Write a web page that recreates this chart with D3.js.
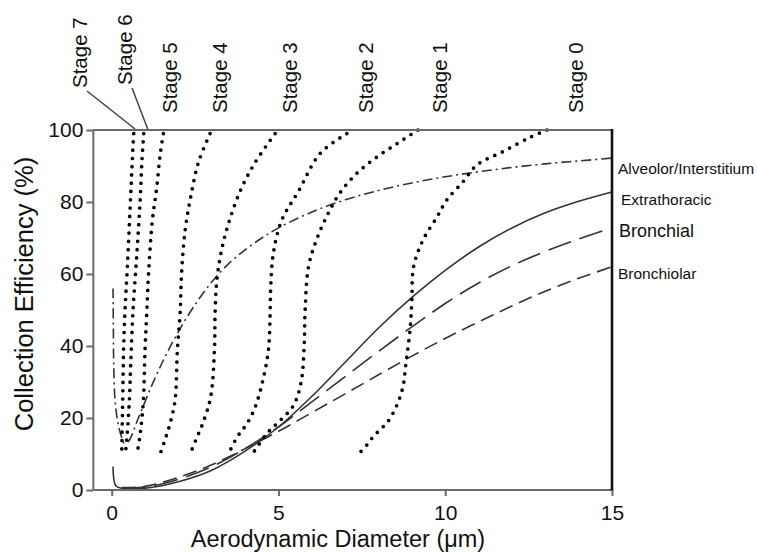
<!DOCTYPE html>
<html>
<head>
<meta charset="utf-8">
<script src="https://cdn.jsdelivr.net/npm/d3@7"></script>
<style>
  html, body { margin: 0; padding: 0; background: #fff; }
  svg { display: block; font-family: "Liberation Sans", Arial, Helvetica, sans-serif; }
</style>
</head>
<body>
<svg id="chart" width="757" height="552"></svg>
<script>
// ---------------- data ----------------
const xTicks = [0, 5, 10, 15];
const yTicks = [0, 20, 40, 60, 80, 100];
const xTitle = "Aerodynamic Diameter (\u03bcm)";
const yTitle = "Collection Efficiency (%)";

const regionNames = ["Alveolor/Interstitium", "Extrathoracic", "Bronchial", "Bronchiolar"];

const alveolar = [[0.04,56],[0.05,45],[0.06,35],[0.1,25],[0.18,19],[0.27,15.5],[0.38,13],[0.5,13.5],[0.8,20],[1.2,29],[1.6,37],[2.0,44],[2.5,51.5],[3.0,57.8],[3.5,62.8],[4.0,66.7],[4.5,70],[5.0,72.8],[6,77.2],[7,80.6],[8,83.2],[9,85.3],[10,87],[11,88.4],[12,89.6],[13,90.6],[14,91.4],[15,92.2]];
const extrathoracic = [[0.04,6.5],[0.12,1.2],[0.3,0.5],[1,0.5],[2,2.3],[3,5.5],[4,10.8],[5,17.5],[6,26],[7,35.5],[8,45],[9,53.5],[10,61],[11,67.5],[12,72.8],[13,77],[14,80.2],[15,82.8]];
const bronchial = [[0.3,0.6],[1,0.8],[2,3],[3,6.5],[4,11.5],[5,17.5],[6,24.5],[7,31.5],[8,38.5],[9,45.3],[10,51.8],[11,57.5],[12,62.3],[13,66.3],[14,69.7],[15,72.8]];
const bronchiolar = [[0.3,0.7],[1,1],[2,3.5],[3,7],[4,11.5],[5,16.3],[6,21.5],[7,26.7],[8,32],[9,37.2],[10,42.1],[11,46.7],[12,51.1],[13,55.2],[14,58.8],[15,62]];

const stageNames = ["Stage 7","Stage 6","Stage 5","Stage 4","Stage 3","Stage 2","Stage 1","Stage 0"];
const stage7 = [[0.66,99],[0.62,92],[0.56,80],[0.47,62],[0.40,50],[0.36,40],[0.33,25],[0.30,10]];
const stage6 = [[0.96,99],[0.91,92],[0.85,80],[0.75,65],[0.64,50],[0.57,35],[0.53,25],[0.46,15],[0.41,10]];
const stage5 = [[1.55,99],[1.45,93],[1.35,84],[1.22,75],[1.11,61],[1.05,49],[1.0,39],[0.95,25],[0.86,16],[0.76,10]];
const stage4 = [[2.95,99],[2.6,91],[2.36,81],[2.2,72],[2.1,61],[2.05,49],[1.97,39],[1.9,25],[1.75,18.5],[1.6,14],[1.45,10]];
const stage3 = [[4.9,99],[4.3,91],[3.85,83],[3.5,74],[3.28,66],[3.15,58],[3.1,49],[3.08,39],[2.97,26],[2.75,19],[2.55,14.5],[2.35,10]];
const stage2 = [[7.05,99],[6.25,93.5],[5.6,83],[5.1,75],[4.85,66],[4.77,57],[4.75,49],[4.7,39],[4.52,30],[4.3,23],[4.06,18.5],[3.76,14.7],[3.5,10]];
const stage1 = [[9.18,100],[8.6,96.5],[7.95,92.5],[7.35,88],[6.84,82.5],[6.5,77],[6.16,70],[5.9,62],[5.8,50],[5.77,40],[5.68,30],[5.45,23.5],[5.05,19.3],[4.66,15.8],[4.22,10]];
const stage0 = [[13.05,100],[12.55,98],[11.73,94],[10.95,90.3],[10.53,85.6],[10.05,80.6],[9.75,75.8],[9.33,69.4],[9.05,62],[9.0,53],[8.95,45],[8.82,35],[8.73,28.6],[8.55,23.6],[8.28,19],[8.04,16.7],[7.83,14.7],[7.65,12.5],[7.4,10]];

// ---------------- layout ----------------
const svg = d3.select("#chart");
const x = d3.scaleLinear().domain([0, 15]).range([111.7, 612]);
const y = d3.scaleLinear().domain([0, 100]).range([490, 130]);
const xLeft = -0.55;               // left edge of frame in data units
const axisGrey = "#6a6a6a";

const line = d3.line().x(d => x(d[0])).y(d => y(d[1])).curve(d3.curveCatmullRom.alpha(0.5));

// ---------------- region curves ----------------
const regionSeries = [alveolar, extrathoracic, bronchial, bronchiolar];
const regionDash = ["10,4,2,4", null, "24,9", "14,7"];
const g = svg.append("g");
regionSeries.forEach((s, i) => {
  g.append("path").attr("d", line(s))
    .attr("fill", "none").attr("stroke", "#333")
    .attr("stroke-width", 1.6)
    .attr("stroke-dasharray", regionDash[i]);
});

// ---------------- stage dotted curves ----------------
const stageSeries = [stage7, stage6, stage5, stage4, stage3, stage2, stage1, stage0];
stageSeries.forEach(s => {
  g.append("path").attr("d", line(s))
    .attr("fill", "none").attr("stroke", "#000")
    .attr("stroke-width", 3.7)
    .attr("stroke-linecap", "round")
    .attr("stroke-dasharray", "0,8.3");
});

// ---------------- frame & axes ----------------
const frame = svg.append("g");
frame.append("line").attr("x1", x(xLeft)).attr("x2", x(15)).attr("y1", y(100)).attr("y2", y(100))
  .attr("stroke", axisGrey).attr("stroke-width", 2);
frame.append("line").attr("x1", x(xLeft)).attr("x2", x(15)).attr("y1", y(0)).attr("y2", y(0))
  .attr("stroke", axisGrey).attr("stroke-width", 2);
frame.append("line").attr("x1", x(xLeft)).attr("x2", x(xLeft)).attr("y1", y(100)).attr("y2", y(0))
  .attr("stroke", axisGrey).attr("stroke-width", 2);
frame.append("line").attr("x1", x(15)).attr("x2", x(15)).attr("y1", y(100) - 1).attr("y2", y(0) + 1)
  .attr("stroke", "#111").attr("stroke-width", 2.6);

const yAxis = svg.append("g").attr("transform", `translate(${x(xLeft)},0)`)
  .call(d3.axisLeft(y).tickValues(yTicks).tickSize(7).tickPadding(3).tickSizeOuter(0));
yAxis.select(".domain").remove();
yAxis.selectAll(".tick line").attr("stroke", axisGrey).attr("stroke-width", 2);
yAxis.selectAll(".tick text").attr("font-size", 21).attr("fill", "#111")
  .attr("font-family", "'Liberation Sans', Arial, sans-serif");

const xAxis = svg.append("g").attr("transform", `translate(0,${y(0)})`)
  .call(d3.axisBottom(x).tickValues(xTicks).tickSize(6).tickPadding(9).tickSizeOuter(0));
xAxis.select(".domain").remove();
xAxis.selectAll(".tick line").attr("stroke", axisGrey).attr("stroke-width", 2);
xAxis.selectAll(".tick text").attr("font-size", 21).attr("fill", "#111")
  .attr("font-family", "'Liberation Sans', Arial, sans-serif");

// ---------------- titles ----------------
svg.append("text").attr("x", 338).attr("y", 547).attr("text-anchor", "middle")
  .attr("font-size", 23.5).attr("fill", "#111").text(xTitle);
svg.append("text").attr("transform", "translate(24,294) rotate(-90)")
  .attr("text-anchor", "middle").attr("dy", "0.35em")
  .attr("font-size", 25.5).attr("fill", "#111").text(yTitle);

// ---------------- stage labels ----------------
const stageLabelX = [-0.95, 0.40, 1.75, 3.25, 5.35, 7.62, 9.84, 13.92];
const stageLabelBottom = [88, 85, 113, 113, 113, 113, 113, 113];
stageNames.forEach((name, i) => {
  svg.append("text")
    .attr("transform", `translate(${x(stageLabelX[i])},${stageLabelBottom[i]}) rotate(-90)`)
    .attr("dy", "0.35em").attr("font-size", 20.5).attr("fill", "#111").text(name);
});
// leader lines for Stage 7 and Stage 6
const leaderTo = [[0.7, 100], [1.08, 100]];
leaderTo.forEach((p, i) => {
  svg.append("line")
    .attr("x1", x(stageLabelX[i]) + 7).attr("y1", stageLabelBottom[i] + 3)
    .attr("x2", x(p[0])).attr("y2", y(p[1]) - 1)
    .attr("stroke", "#444").attr("stroke-width", 1.5);
});

// ---------------- region labels ----------------
const regionLabelY = [89.4, 80.6, 71.9, 60.0];
const regionLabelSize = [15.5, 15.5, 18, 15.5];
const regionLabelDx = [6, 9, 7, 6];
regionNames.forEach((name, i) => {
  svg.append("text").attr("x", x(15) + regionLabelDx[i]).attr("y", y(regionLabelY[i]))
    .attr("dy", "0.35em").attr("font-size", regionLabelSize[i]).attr("fill", "#111").text(name);
});
</script>
</body>
</html>
